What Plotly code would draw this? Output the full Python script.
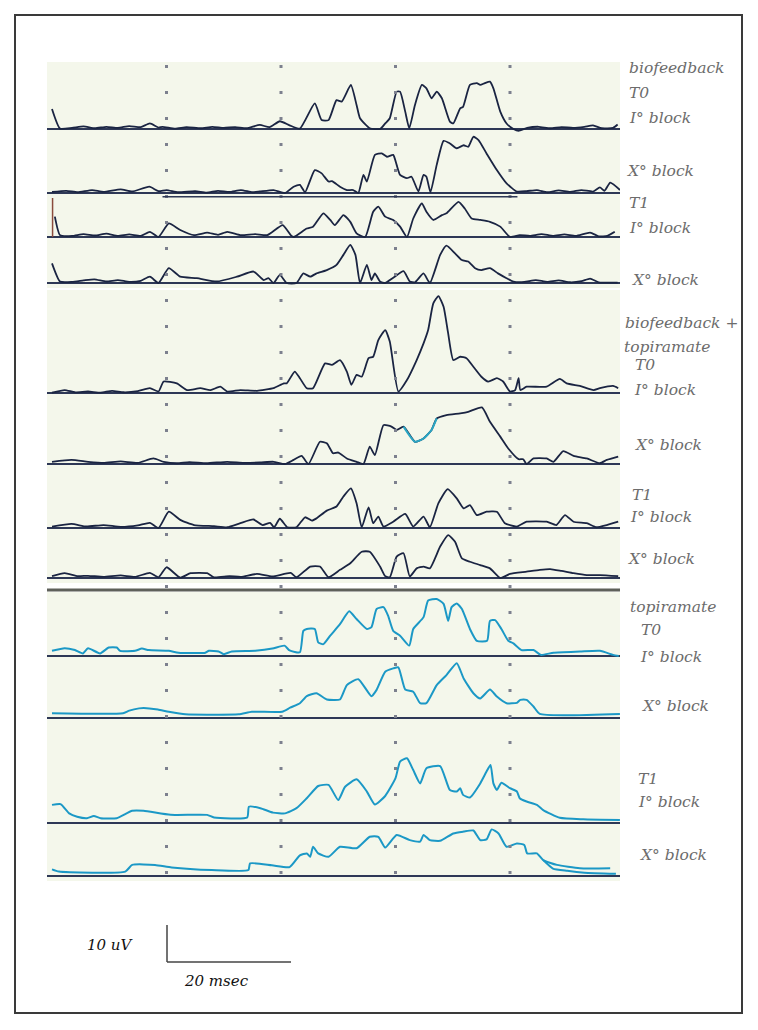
import plotly.graph_objects as go

# time in ms, amplitude in uV
bio_t0_i = [(0, 5.4), (1.4, 0.1), (3.5, 0.3), (5.5, 0.7), (7.5, 0.2), (9.5, 0.6), (11.5, 0.3), (13.5, 0.8),
            (15.5, 0.5), (17.1, 1.5), (18.6, 0.4), (19.3, 0.6), (21.5, 0.1), (23.5, 0.5), (26, 0.2), (28, 0.6),
            (30, 0.3), (32, 0.5), (34, 0.2), (36.3, 1.1), (38, 0.5), (39.8, 2.1), (41.5, 1.0), (43.3, 0.1),
            (45.9, 6.9), (47.1, 2.4), (48.3, 2.4), (49.7, 7.8), (50.6, 7.4), (52.2, 11.9), (53.2, 6.5),
            (53.8, 2.9), (55.5, 0.2), (57.3, 0), (58.2, 1.5), (59.0, 2.9), (60.2, 10.1), (60.8, 10.1),
            (61.7, 4.7), (62.4, 0.2), (63.4, 6.5), (64.6, 11.9), (65.4, 11.0), (66.3, 8.3), (67.2, 10.1),
            (68.1, 8.3), (69.5, 2.0), (70.1, 1.5), (71.3, 5.6), (71.8, 6.0), (73.0, 11.9), (74.2, 12.4),
            (74.8, 11.9), (75.6, 12.4), (76.5, 12.8), (77.1, 11.0), (78.3, 4.7), (79.4, 1.5), (80.6, 0),
            (81.5, -0.5), (83, 0.3), (85, 0.6), (87, 0.2), (89, 0.5), (91, 0.3), (93, 0.6), (94.5, 1.0),
            (96, 0.2), (98, 0.3), (98.8, 1.2)]

bio_t0_x = [(0, 0.3), (2.5, 0.6), (4.5, 0.2), (7, 0.8), (9, 0.3), (12, 1.0), (14, 0.4), (17, 1.7), (18.6, 0.5),
            (20, 0.8), (22, 0.2), (25, 0.5), (27, 0.1), (29, 0.6), (31, 0.3), (33, 0.8), (35, 0.2), (36.3, 0.4),
            (38.7, 0.8), (40.7, 0), (42.2, 1.7), (43.3, 2.2), (44.2, 0.2), (45.9, 6.2), (47.1, 5.3), (48.3, 3.1),
            (48.9, 3.2), (50.3, 1.7), (51.5, 0.8), (52.6, 0.8), (53.5, 0), (54.4, 4.9), (55.0, 3.1), (56.4, 10.3),
            (57.6, 10.7), (58.5, 9.8), (59.6, 10.3), (60.2, 7.6), (60.8, 4.9), (62.0, 4.0), (62.8, 4.4),
            (64.0, 0.4), (64.9, 4.9), (65.4, 4.4), (66.1, 0.2), (67.2, 7.6), (68.4, 14.1), (69.5, 13.4),
            (70.7, 12.1), (71.9, 12.9), (72.7, 12.5), (73.6, 15.2), (74.5, 14.3), (75.9, 10.7), (77.7, 6.2),
            (79.4, 2.6), (81.2, 0.4), (82.9, 0.5), (84.7, 0.8), (86.5, 0.2), (88.5, 0.7), (90.5, 0.3),
            (92.5, 0.8), (94.5, 0.4), (95.7, 1.5), (96.5, 0.6), (97.5, 2.8), (98.5, 1.8), (99.2, 0.8)]

bio_t1_i = [(0.5, 5.5), (1.4, 0.5), (3.5, 0.3), (5.5, 0.8), (7.5, 0.4), (9.5, 0.9), (11.5, 0.3), (13.5, 0.7),
            (15.5, 0.3), (17.1, 1.4), (18.6, 0), (20.4, 3.7), (22.4, 1.9), (24.8, 0.5), (27.1, 1.2), (29, 0.6),
            (30.6, 1.4), (33.0, 0.5), (35.5, 0.8), (37.6, 0.5), (40.3, 3.2), (41.7, 0.5), (42.2, 0), (44.5, 2.3),
            (45.6, 2.8), (47.4, 6.4), (48.6, 4.6), (49.4, 3.2), (50.9, 5.9), (52.1, 4.1), (53.2, 1.0), (54.7, 0),
            (56.1, 6.8), (57.0, 8.2), (58.2, 5.5), (59.6, 4.6), (60.8, 2.8), (62.0, 0), (63.1, 5.0), (64.6, 9.1),
            (65.4, 6.8), (66.6, 4.6), (68.1, 5.9), (68.9, 6.4), (71.0, 9.5), (72.1, 7.7), (73.3, 5.0),
            (74.8, 4.6), (76.5, 4.1), (78.3, 2.8), (80.0, 0), (81.7, 0.5), (83.5, 0.3), (85.5, 0.8), (87.5, 0.3),
            (89.5, 0.7), (91.5, 0.3), (94, 1.2), (95.5, 0.2), (97, 0.3), (98.3, 1.4)]

bio_t1_x = [(0, 5.3), (1.4, 0.4), (3.5, 0.3), (5.5, 0.7), (7.4, 1.0), (9.5, 0.4), (11.5, 0.8), (13.5, 0.3),
            (15.5, 0.6), (17.1, 1.7), (18.6, 0), (20.4, 4.0), (22.4, 1.7), (25.3, 1.3), (28.8, 0.4), (32.3, 1.7),
            (35.2, 3.1), (37.0, 0.8), (37.8, 1.3), (38.7, 0), (39.8, 2.2), (41.0, 0), (42.7, 0), (43.9, 2.6),
            (45.1, 1.7), (46.2, 2.6), (48.0, 3.5), (49.7, 4.9), (50.9, 7.6), (52.1, 10.3), (53.0, 7.6),
            (53.8, 0), (55.0, 4.9), (55.8, 0.8), (56.4, 2.6), (57.3, 0.4), (58.2, 0), (59.6, 1.4), (61.4, 3.2),
            (62.5, 0.4), (63.4, 0.2), (64.9, 2.6), (66.0, 0), (67.8, 7.6), (68.9, 10.1), (70.4, 8.0),
            (71.6, 6.2), (72.7, 5.8), (73.9, 4.0), (75.0, 3.5), (76.5, 4.0), (77.9, 2.6), (79.4, 1.3),
            (80.6, 0.4), (82.5, 0.3), (84.5, 0.8), (86.5, 0.3), (88.5, 0.7), (90.5, 0.2), (92.5, 0.5),
            (94, 1.2), (95.5, 0.2), (98.8, 0.1)]

bt_t0_i = [(0, 0.1), (2.2, 0.8), (4, 0.2), (6.3, 0.4), (8.5, 0.1), (10.5, 0.6), (12.5, 0.2), (15, 0.5),
           (17.1, 1.3), (18.6, 0.4), (19.5, 3.1), (21.8, 2.6), (23.6, 0.8), (25.9, 1.3), (27.7, 0.8), (29.4, 1.7),
           (30.6, 0.4), (32.9, 0.8), (35.8, 0.6), (38.7, 1.3), (40.5, 2.6), (41.0, 2.6), (42.4, 5.8),
           (43.3, 4.0), (44.5, 1.3), (45.6, 1.3), (47.7, 8.0), (48.9, 7.6), (50.3, 8.9), (51.5, 5.8),
           (52.3, 2.2), (53.2, 4.9), (54.1, 4.4), (55.3, 9.4), (56.1, 9.8), (57.0, 14.3), (58.2, 17.0),
           (59.0, 13.9), (60.5, 0.4), (62.0, 3.5), (63.7, 8.9), (64.9, 13.4), (65.7, 17.0), (66.6, 24.2),
           (67.5, 26.2), (68.4, 23.3), (69.2, 16.1), (70.1, 8.9), (71.3, 9.8), (72.4, 9.4), (73.6, 7.1),
           (75.0, 4.4), (76.2, 3.1), (77.7, 4.0), (78.8, 3.1), (80.0, 0.4), (80.9, 0.8), (81.5, 4.0),
           (81.8, 0.8), (82.9, 1.7), (86.4, 1.7), (88.7, 3.8), (89.9, 2.6), (92.2, 1.9), (94.6, 0.8),
           (95.7, 1.3), (98.0, 1.9), (98.9, 1.3)]

bt_t0_x = [(0, 0.6), (3.4, 1.1), (6.3, 0.6), (9, 0.3), (12, 0.7), (15, 0.3), (17.7, 1.5), (19.5, 0.6),
           (21.8, 0.2), (24, 0.5), (27, 0.2), (30.6, 0.6), (33.5, 0.3), (36.3, 0.4), (38.7, 0.6), (40.7, 0),
           (42.2, 1.1), (43.6, 2.2), (44.8, 0), (46.8, 6.0), (48.0, 5.6), (49.1, 2.9), (50.0, 3.1), (51.5, 1.5),
           (53.2, 0.6), (54.4, 0), (55.5, 4.7), (56.4, 2.4), (57.9, 10.5), (59.3, 10.1), (60.2, 9.2),
           (61.4, 10.1), (63.4, 6.0), (64.9, 6.9), (66.3, 9.2), (67.2, 12.3), (68.9, 13.2), (71.3, 13.7),
           (72.7, 14.1), (75.1, 15.3), (76.5, 11.4), (78.3, 7.4), (79.7, 4.2), (81.5, 1.3), (82.3, 1.3),
           (82.9, 0), (84.1, 1.5), (86.4, 1.5), (87.6, 0.6), (89.3, 3.5), (91.1, 2.2), (93.4, 1.5),
           (95.7, 0.2), (96.9, 1.1), (98.9, 2.0)]

bt_t1_i = [(0, 0.4), (3.4, 1.1), (6, 0.4), (9, 0.8), (12, 0.3), (15, 0.7), (17.1, 1.4), (18.6, 0), (20.4, 4.4),
           (22.4, 2.2), (24.8, 0.8), (28.3, 0.5), (30.6, 0.2), (32.9, 1.3), (35.2, 2.3), (36.8, 0.8),
           (38.1, 1.4), (38.8, 0.2), (39.8, 2.5), (41.1, 0.2), (42.7, 0.2), (44.2, 2.9), (45.4, 2.0),
           (46.2, 2.6), (48.0, 4.7), (49.7, 5.8), (50.9, 8.5), (52.2, 10.7), (53.2, 6.7), (54.1, 0.2),
           (55.3, 5.6), (56.1, 1.3), (57.0, 3.1), (57.9, 0.4), (59.6, 1.7), (61.7, 3.8), (63.1, 0.4),
           (64.9, 3.1), (66.0, 0.2), (67.5, 6.7), (69.1, 10.5), (70.7, 8.0), (71.9, 5.3), (73.0, 6.2),
           (74.2, 3.5), (75.9, 4.4), (77.7, 4.4), (79.1, 1.3), (81.2, 0.4), (82.9, 1.7), (86.4, 1.7),
           (88.1, 0.8), (89.6, 3.5), (91.1, 1.7), (93.4, 1.3), (95.1, 0.2), (96.9, 0.8), (98.9, 1.7)]

bt_t1_x = [(0, 0.5), (2.2, 1.3), (4.5, 0.5), (6.3, 0.6), (9, 0.3), (12, 0.7), (14.5, 0.3), (17.1, 1.4),
           (18.6, 0.2), (20.0, 2.9), (22.4, 0.1), (24.2, 1.3), (27.1, 1.3), (28.3, 0.2), (31, 0.5), (33, 0.3),
           (35.8, 1.1), (38.5, 0.4), (41.7, 1.4), (42.7, 0.2), (45.1, 3.1), (46.8, 3.1), (48.3, 0.2),
           (50.3, 2.2), (52.1, 4.0), (54.1, 7.1), (55.5, 7.1), (57.3, 3.1), (58.2, 0.5), (59.0, 0.2),
           (60.2, 5.8), (61.4, 6.7), (62.5, 0.4), (63.7, 2.6), (64.9, 3.1), (66.0, 2.6), (67.8, 8.5),
           (69.2, 11.6), (70.4, 9.8), (71.6, 5.3), (73.0, 4.4), (74.8, 3.5), (76.5, 2.6), (78.3, 0),
           (80.0, 1.1), (82.9, 1.7), (85.2, 2.2), (87, 2.4), (89, 1.9), (91.1, 1.3), (93.4, 0.8), (95.7, 0.8),
           (98.9, 0.5)]

top_t0_i = [(0, 1.4), (2.2, 2.1), (4.0, 1.6), (5.4, 0.7), (6.3, 2.1), (8.4, 0.7), (9.9, 2.3), (11.3, 2.3),
            (11.9, 1.4), (14.5, 1.4), (15.7, 2.0), (16.9, 1.6), (20.4, 1.4), (22.1, 0.9), (26.8, 0.9),
            (27.4, 1.4), (29.1, 1.2), (30.0, 0.5), (31.4, 1.2), (35.5, 1.4), (38.5, 2.0), (40.6, 2.8),
            (41.5, 1.5), (43.3, 1.0), (43.9, 6.8), (44.5, 7.3), (45.9, 7.3), (46.5, 3.7), (47.4, 3.2),
            (48.6, 5.5), (50.3, 8.6), (51.9, 12.1), (53.2, 10.0), (55.0, 7.3), (55.8, 7.8), (56.7, 12.7),
            (57.9, 13.2), (58.7, 10.9), (59.6, 6.8), (60.8, 5.5), (62.4, 2.8), (63.1, 7.3), (64.9, 10.5),
            (65.7, 15.0), (67.2, 15.4), (68.4, 14.1), (69.2, 9.5), (69.8, 13.2), (70.7, 14.2), (71.6, 12.7),
            (73.0, 7.3), (74.2, 4.1), (76.0, 4.1), (76.5, 9.5), (77.4, 9.7), (78.5, 7.3), (79.7, 4.1),
            (80.6, 3.4), (82.0, 1.6), (84.1, 1.6), (85.4, 0.3), (87.6, 0.9), (92.2, 1.2), (95.7, 1.4),
            (98.0, 0.3), (99, 0)]

top_t0_x = [(0, 1.3), (12.4, 1.3), (13.5, 2.0), (15.2, 2.6), (16, 2.7), (17.0, 2.6), (18.5, 2.3), (20.4, 1.7),
            (23.3, 1.0), (32.6, 1.0), (34.9, 1.7), (40.2, 1.7), (41.6, 2.8), (43.3, 4.0), (44.5, 5.9),
            (46.2, 6.7), (48.0, 5.0), (50.3, 5.0), (51.5, 8.9), (53.5, 10.5), (55.8, 5.9), (56.7, 7.6),
            (58.2, 12.5), (59.6, 13.4), (60.5, 13.7), (61.7, 7.7), (63.1, 7.1), (64.3, 4.0), (65.4, 4.0),
            (67.2, 8.9), (68.9, 11.6), (70.7, 14.8), (71.9, 10.7), (73.6, 6.7), (74.8, 5.3), (76.5, 7.7),
            (77.7, 5.8), (79.4, 4.0), (81.2, 4.1), (81.8, 4.9), (82.9, 4.9), (84.1, 3.1), (85.2, 1.1),
            (99.2, 1.1)]

top_t1_i = [(0, 4.9), (1.5, 5.1), (3.0, 2.6), (4.4, 1.7), (6.1, 1.3), (7.3, 1.9), (8.5, 1.3), (11.3, 1.3),
            (14.0, 3.3), (16.0, 3.3), (20.7, 2.2), (27.1, 2.2), (28.3, 1.5), (34.1, 1.5), (34.4, 4.4),
            (36.4, 4.0), (38.6, 2.8), (40.7, 2.6), (42.7, 4.0), (44.5, 6.7), (46.5, 10.0), (48.3, 10.3),
            (50.0, 6.2), (51.2, 9.8), (53.2, 11.8), (55.0, 8.5), (56.4, 5.0), (58.2, 7.3), (60.0, 12.1),
            (60.8, 16.6), (62.0, 17.5), (63.1, 14.3), (64.3, 10.7), (65.4, 14.8), (67.8, 15.4), (69.5, 8.9),
            (70.7, 8.5), (71.3, 9.4), (71.8, 7.6), (73.0, 6.9), (74.8, 10.7), (75.9, 13.9), (76.6, 15.7),
            (77.1, 10.7), (77.7, 8.9), (78.5, 10.9), (80.0, 9.4), (81.2, 8.5), (81.7, 6.7), (82.9, 5.8),
            (84.7, 4.9), (85.8, 3.5), (88.7, 1.4), (92.8, 1.0), (99.2, 0.8)]

top_t1_x = [(0, 1.8), (1.2, 1.2), (12.8, 1.2), (14.0, 3.0), (18.0, 3.0), (20.9, 2.3), (27.9, 1.6), (34.3, 1.6),
            (34.6, 3.4), (38.4, 2.9), (41.5, 2.4), (43.3, 5.6), (44.5, 6.1), (45.1, 5.2), (45.6, 7.9),
            (46.5, 6.1), (48.3, 5.2), (50.3, 7.9), (53.2, 7.5), (55.5, 10.6), (57.0, 10.6), (58.2, 7.7),
            (60.2, 11.1), (62.5, 9.7), (64.3, 9.3), (64.9, 11.1), (66.0, 9.7), (67.8, 9.5), (70.1, 11.5),
            (71.9, 12.0), (73.6, 12.3), (74.8, 9.7), (75.9, 9.9), (76.8, 12.6), (78.0, 11.5), (79.4, 7.9),
            (81.2, 8.8), (82.5, 8.4), (83.0, 6.1), (84.7, 6.1), (85.8, 4.3), (88.2, 3.0), (92.2, 2.1),
            (97.5, 2.1)]
# second, lower tail of the last sweep
top_t1_x_tail = [(85.8, 4.3), (87.5, 2.0), (90, 1.4), (93, 0.9), (98.5, 0.6)]

series = [bio_t0_i, bio_t0_x, bio_t1_i, bio_t1_x,
          bt_t0_i, bt_t0_x, bt_t1_i, bt_t1_x,
          top_t0_i, top_t0_x, top_t1_i, top_t1_x]

labels = [("biofeedback", 627, 68), ("T0", 627, 93), ("I° block", 627, 118),
          ("X° block", 625, 171), ("T1", 627, 203), ("I° block", 627, 228),
          ("X° block", 630, 280),
          ("biofeedback +", 623, 323), ("topiramate", 622, 347), ("T0", 633, 365),
          ("I° block", 632, 390), ("X° block", 633, 445), ("T1", 630, 495),
          ("I° block", 628, 517), ("X° block", 626, 559),
          ("topiramate", 628, 607), ("T0", 639, 630), ("I° block", 638, 657),
          ("X° block", 640, 706), ("T1", 636, 779), ("I° block", 636, 802),
          ("X° block", 638, 855)]

grid_ms = [20, 40, 60, 80]

# the page body has an 8px margin, so the figure is drawn 8px in from the corner
OFF = 8
W, H = 758 - 2 * OFF, 1030 - 2 * OFF
PX_PER_MS = 5.725
PX_PER_UV = 3.7
X0_PX = 52          # page pixel of t = 0
LEFT_PX, RIGHT_PX = 47, 620
PAD = 5

# baselines of the 12 panels (page pixels from top) and panel tops
bases = [129, 193, 237, 283, 393, 464, 528, 578, 656, 718, 823, 876]
tops = [62, 134, 198, 242, 290, 398, 469, 533, 592, 661, 723, 828]

DARK = "#1a2442"
CYAN = "#1b98c6"


def fx(p):
    return (p - OFF) / W


def fy(p):
    return 1 - (p - OFF) / H


fig = go.Figure()
layout = dict()
for i, (data, base, top) in enumerate(zip(series, bases, tops)):
    n = i + 1
    yname = "y" if n == 1 else f"y{n}"
    t = [p[0] for p in data]
    v = [p[1] for p in data]
    color = CYAN if i >= 8 else DARK
    fig.add_trace(go.Scatter(x=t, y=v, mode="lines", xaxis="x", yaxis=yname,
                             line=dict(color=color, width=2.0 if i >= 8 else 1.8,
                                       shape="spline", smoothing=0.5),
                             showlegend=False, hoverinfo="skip"))
    layout["yaxis" if n == 1 else f"yaxis{n}"] = dict(
        domain=[fy(base + PAD), fy(top)],
        range=[-PAD / PX_PER_UV, (base - top) / PX_PER_UV],
        anchor="x", showticklabels=False, showgrid=False, showline=False, ticks="",
        zeroline=True, zerolinecolor="#2e3856", zerolinewidth=2, fixedrange=True)

fig.add_trace(go.Scatter(x=[p[0] for p in top_t1_x_tail], y=[p[1] for p in top_t1_x_tail], mode="lines",
                         xaxis="x", yaxis="y12", line=dict(color=CYAN, width=2, shape="spline", smoothing=0.5),
                         showlegend=False, hoverinfo="skip"))

# cyan retrace fragment on bio+topiramate T0 X° block
seg = [p for p in bt_t0_x if 61.4 <= p[0] <= 67.2]
fig.add_trace(go.Scatter(x=[p[0] for p in seg], y=[p[1] for p in seg], mode="lines",
                         xaxis="x", yaxis="y6",
                         line=dict(color="#2aa6c4", width=2, shape="spline", smoothing=0.5),
                         showlegend=False, hoverinfo="skip"))

shapes = []
for g in grid_ms:
    shapes.append(dict(type="line", xref="x", yref="paper", x0=g, x1=g, y0=fy(65), y1=fy(880),
                       line=dict(color="#7c808e", width=3, dash="3px,23px")))
# second baseline under panel 2
shapes.append(dict(type="line", xref="x", yref="y2", x0=19.3, x1=81.3, y0=-1.0, y1=-1.0,
                   line=dict(color="#2e3856", width=1.5)))
# left edge mark on panel 3
shapes.append(dict(type="line", xref="x", yref="y3", x0=0.1, x1=0.1, y0=0, y1=(bases[2] - bases[1]) / PX_PER_UV,
                   line=dict(color="#8a4b3c", width=1.5)))
# separator before topiramate panels
shapes.append(dict(type="line", xref="paper", yref="paper", x0=fx(LEFT_PX), x1=fx(RIGHT_PX),
                   y0=fy(590), y1=fy(590), line=dict(color="#5e605a", width=3)))
# frame
shapes.append(dict(type="rect", xref="paper", yref="paper", x0=fx(15), x1=fx(742), y0=fy(1013), y1=fy(15),
                   line=dict(color="#3a3a3a", width=2)))
# scale bar
shapes.append(dict(type="line", xref="paper", yref="paper", x0=fx(167), x1=fx(167), y0=fy(925), y1=fy(962),
                   line=dict(color="#444444", width=1.5)))
shapes.append(dict(type="line", xref="paper", yref="paper", x0=fx(167), x1=fx(291), y0=fy(962), y1=fy(962),
                   line=dict(color="#444444", width=1.5)))

annotations = []
for text, xp, yp in labels:
    annotations.append(dict(text=f"<i>{text}</i>", xref="paper", yref="paper", x=fx(xp), y=fy(yp),
                            xanchor="left", yanchor="middle", showarrow=False,
                            font=dict(family="DejaVu Serif", size=15.5, color="#6c6c6c")))
annotations.append(dict(text="<i>10 uV</i>", xref="paper", yref="paper", x=fx(110), y=fy(945),
                        xanchor="center", yanchor="middle", showarrow=False,
                        font=dict(family="DejaVu Serif", size=15, color="#111111")))
annotations.append(dict(text="<i>20 msec</i>", xref="paper", yref="paper", x=fx(216), y=fy(981),
                        xanchor="center", yanchor="middle", showarrow=False,
                        font=dict(family="DejaVu Serif", size=15, color="#111111")))

fig.update_layout(
    width=W, height=H,
    margin=dict(l=0, r=0, t=0, b=0),
    paper_bgcolor="white",
    plot_bgcolor="#f4f7eb",
    xaxis=dict(domain=[fx(LEFT_PX), fx(RIGHT_PX)],
               range=[(LEFT_PX - X0_PX) / PX_PER_MS, (RIGHT_PX - X0_PX) / PX_PER_MS],
               showticklabels=False, showgrid=False, zeroline=False, showline=False, ticks="",
               fixedrange=True),
    shapes=shapes,
    annotations=annotations,
    showlegend=False,
    **layout,
)

fig.write_html("out.html", config={"displayModeBar": False})
